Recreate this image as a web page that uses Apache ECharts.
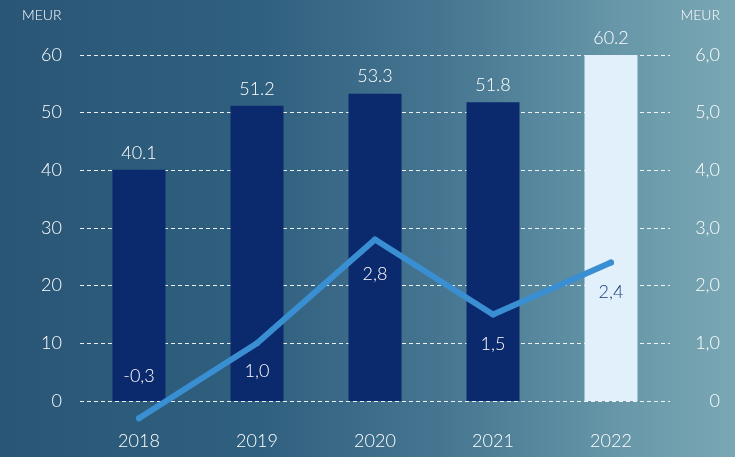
<!DOCTYPE html>
<html>
<head>
<meta charset="utf-8">
<script src="https://cdn.jsdelivr.net/npm/echarts@6/dist/echarts.min.js"></script>
<style>
html,body{margin:0;padding:0;width:735px;height:457px;overflow:hidden;}
body{background:linear-gradient(90deg,#2a5676 0%,#30607f 35%,#457590 60%,#6898a9 85%,#7aa7b4 100%);}
#c{width:735px;height:457px;}
</style>
</head>
<body>
<div id="c"></div>
<script>
var categories = ['2018','2019','2020','2021','2022'];
var barValues = [40.1, 51.2, 53.3, 51.8, 60.2];
var lineValues = [-0.3, 1.0, 2.8, 1.5, 2.4];
var leftTicks = [0, 10, 20, 30, 40, 50, 60];
var rightTicks = [0, 1, 2, 3, 4, 5, 6];

var FONT = 'Lato';
var FW = 300;
var navy = '#0b296d';
var light = '#e1f0fa';

var lineLabelCfg = [
  {position:'top', distance:30, color:'#ffffff'},
  {position:'bottom', distance:16, color:'#ffffff'},
  {position:'bottom', distance:23, color:'#ffffff'},
  {position:'bottom', distance:18, color:'#ffffff'},
  {position:'bottom', distance:18, color:'#1c3a7c'}
];

var barData = barValues.map(function(v,i){
  return {value:v, itemStyle:{color: i===barValues.length-1 ? light : navy}};
});
var lineData = lineValues.map(function(v,i){
  var c = lineLabelCfg[i];
  return {value:v, label:{position:c.position, distance:c.distance, color:c.color}};
});
function fmtComma(v){ return v===0 ? '0' : v.toFixed(1).replace('.',','); }

var chart = echarts.init(document.getElementById('c'), null, {renderer:'canvas'});
chart.setOption({
  backgroundColor:'transparent',
  animation:false,
  textStyle:{fontFamily:FONT, fontWeight:FW},
  grid:{left:80, right:65, top:55, bottom:56},
  graphic:[
    {type:'text', left:22, top:8, style:{text:'MEUR', fill:'#ffffff', font:FW+' 14px '+FONT}},
    {type:'text', right:15, top:8, style:{text:'MEUR', fill:'#ffffff', font:FW+' 14px '+FONT}}
  ],
  xAxis:{
    type:'category', data:categories,
    axisLine:{show:false}, axisTick:{show:false},
    axisLabel:{color:'#ffffff', fontSize:18, margin:31, fontFamily:FONT, fontWeight:FW}
  },
  yAxis:[
    {type:'value', min:leftTicks[0], max:leftTicks[leftTicks.length-1], interval:10,
     axisLine:{show:false}, axisTick:{show:false},
     axisLabel:{color:'#ffffff', fontSize:18, margin:18, fontFamily:FONT, fontWeight:FW},
     splitLine:{show:true, lineStyle:{color:'rgba(255,255,255,0.9)', type:[4,3], width:1}}},
    {type:'value', min:rightTicks[0], max:rightTicks[rightTicks.length-1], interval:1,
     axisLine:{show:false}, axisTick:{show:false},
     axisLabel:{color:'#ffffff', fontSize:18, margin:50, align:'right', fontFamily:FONT, fontWeight:FW, formatter:fmtComma},
     splitLine:{show:false}}
  ],
  series:[
    {type:'bar', data:barData, barWidth:53, yAxisIndex:0, z:2,
     label:{show:true, position:'top', distance:8, color:'#ffffff', fontSize:18, fontFamily:FONT, fontWeight:FW,
            formatter:function(p){return p.value.toFixed(1);}}},
    {type:'line', data:lineData, yAxisIndex:1, z:3, clip:false,
     symbol:'circle', symbolSize:6, showSymbol:true,
     itemStyle:{color:'#3a8ed2'},
     lineStyle:{color:'#3a8ed2', width:6, cap:'round', join:'round'},
     label:{show:true, fontSize:18, fontFamily:FONT, fontWeight:FW,
            formatter:function(p){return fmtComma(p.value);}}}
  ]
});
</script>
</body>
</html>
